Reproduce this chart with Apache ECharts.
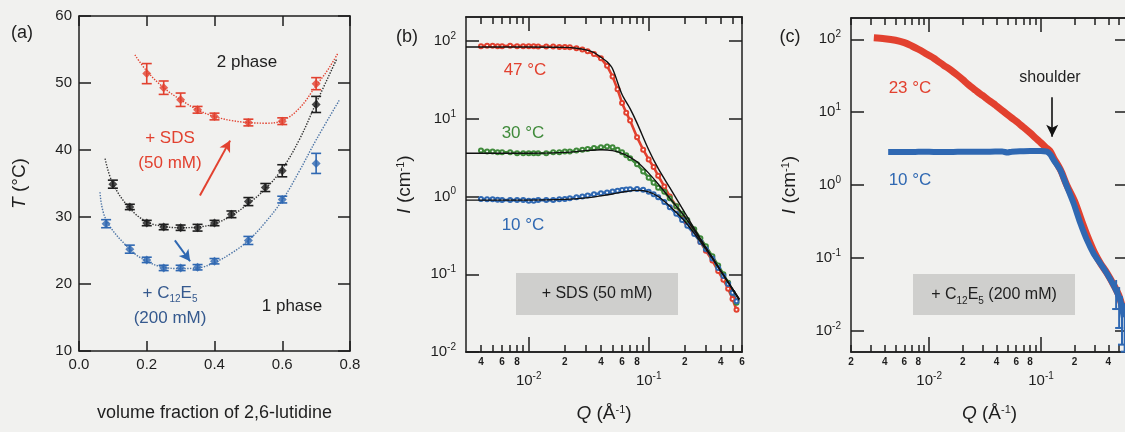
<!DOCTYPE html>
<html>
<head>
<meta charset="utf-8">
<script src="https://cdn.jsdelivr.net/npm/echarts@6/dist/echarts.min.js"></script>
<style>
html, body { margin: 0; padding: 0; background: #f1f1ef; }
#chart { width: 1125px; height: 432px; }
</style>
</head>
<body>
<div id="chart"></div>
<script>
// ---- (a) phase diagram: volume fraction vs T ----
var phiSDS = [0.2, 0.25, 0.3, 0.35, 0.4, 0.5, 0.6, 0.7];
var tSDS = [51.4, 49.3, 47.5, 46.0, 45.0, 44.1, 44.3, 49.9];
var errSDS = [1.5, 1.0, 1.0, 0.5, 0.5, 0.5, 0.5, 0.9];
var phiPure = [0.1, 0.15, 0.2, 0.25, 0.3, 0.35, 0.4, 0.45, 0.5, 0.55, 0.6, 0.7];
var tPure = [34.9, 31.5, 29.1, 28.5, 28.4, 28.4, 29.1, 30.4, 32.3, 34.4, 36.9, 46.8];
var errPure = [0.6, 0.4, 0.4, 0.4, 0.4, 0.5, 0.4, 0.5, 0.6, 0.6, 0.9, 1.2];
var phiC12 = [0.08, 0.15, 0.2, 0.25, 0.3, 0.35, 0.4, 0.5, 0.6, 0.7];
var tC12 = [29.0, 25.2, 23.6, 22.4, 22.4, 22.5, 23.4, 26.5, 32.6, 38.0];
var errC12 = [0.6, 0.6, 0.4, 0.4, 0.4, 0.4, 0.4, 0.6, 0.5, 1.5];
// dotted guide curves
var fitPhiSDS = [0.165, 0.2, 0.25, 0.3, 0.35, 0.4, 0.45, 0.5, 0.55, 0.6, 0.65, 0.7, 0.735, 0.765];
var fitTSDS = [54.2, 51.8, 49.3, 47.5, 46.0, 45.0, 44.4, 44.1, 44.0, 44.4, 46.2, 49.6, 52.0, 54.5];
var fitPhiPure = [0.077, 0.1, 0.15, 0.2, 0.25, 0.3, 0.35, 0.4, 0.45, 0.5, 0.55, 0.6, 0.65, 0.7, 0.76];
var fitTPure = [38.7, 35.0, 31.3, 29.3, 28.6, 28.4, 28.5, 29.0, 30.2, 32.0, 34.2, 37.2, 41.5, 47.0, 53.5];
var fitPhiC12 = [0.062, 0.08, 0.15, 0.2, 0.25, 0.3, 0.35, 0.4, 0.45, 0.5, 0.55, 0.6, 0.65, 0.7, 0.768];
var fitTC12 = [33.7, 29.6, 25.2, 23.4, 22.5, 22.3, 22.4, 23.2, 24.6, 26.5, 29.2, 32.5, 36.8, 41.5, 47.4];
var arrowSDS = [[0.357, 33.2], [0.446, 41.4]];
var arrowC12 = [[0.283, 26.5], [0.328, 23.4]];

// ---- (b) SANS + SDS (50 mM) ----
var qB = [0.004, 0.0045, 0.005, 0.0055, 0.006, 0.007, 0.008, 0.009, 0.01, 0.011, 0.012, 0.014, 0.016, 0.018, 0.02, 0.022,
  0.025, 0.028, 0.031, 0.035, 0.04, 0.045, 0.05, 0.055, 0.06, 0.065, 0.07, 0.08, 0.09, 0.1, 0.11, 0.12, 0.135, 0.15,
  0.17, 0.19, 0.21, 0.24, 0.27, 0.3, 0.34, 0.38, 0.42, 0.46, 0.5, 0.54];
var iB47 = [86, 87, 87, 86, 86, 87, 86, 86, 86, 86, 85, 85, 85, 84, 84, 83,
  81, 78, 74, 68, 60, 48, 35, 24, 16, 12, 9.5, 5.8, 4.0, 3.0, 2.4, 1.85, 1.35, 1.0,
  0.75, 0.58, 0.46, 0.34, 0.26, 0.2, 0.15, 0.11, 0.085, 0.065, 0.048, 0.035];
var iB30 = [3.9, 3.8, 3.8, 3.7, 3.7, 3.7, 3.6, 3.6, 3.6, 3.6, 3.6, 3.6, 3.7, 3.7, 3.8, 3.8,
  3.9, 4.0, 4.1, 4.2, 4.3, 4.4, 4.3, 4.0, 3.7, 3.4, 3.1, 2.6, 2.1, 1.75, 1.5, 1.3, 1.15, 0.95,
  0.75, 0.6, 0.5, 0.38, 0.29, 0.23, 0.17, 0.13, 0.1, 0.078, 0.058, 0.043];
var iB10 = [0.93, 0.92, 0.92, 0.91, 0.9, 0.9, 0.9, 0.9, 0.88, 0.88, 0.9, 0.9, 0.9, 0.92, 0.93, 0.95,
  0.98, 1.0, 1.03, 1.07, 1.1, 1.13, 1.16, 1.19, 1.21, 1.23, 1.24, 1.25, 1.22, 1.15, 1.07, 0.98, 0.85, 0.73,
  0.6, 0.5, 0.42, 0.33, 0.26, 0.21, 0.16, 0.12, 0.095, 0.075, 0.058, 0.045];
var qFitB47 = [0.003, 0.01, 0.02, 0.025, 0.03, 0.035, 0.04, 0.045, 0.05, 0.06, 0.07, 0.08, 0.1, 0.12, 0.15, 0.2, 0.3, 0.4, 0.57];
var iFitB47 = [84, 84, 83, 81, 77, 71, 62, 54, 44, 20.5, 13.5, 8.8, 4.0, 2.3, 1.3, 0.62, 0.22, 0.11, 0.048];
var qFitB30 = [0.003, 0.01, 0.02, 0.03, 0.04, 0.05, 0.06, 0.07, 0.08, 0.1, 0.12, 0.15, 0.2, 0.3, 0.4, 0.57];
var iFitB30 = [3.6, 3.6, 3.7, 3.9, 4.0, 3.9, 3.6, 3.2, 2.8, 2.0, 1.45, 0.95, 0.55, 0.22, 0.11, 0.046];
var qFitB10 = [0.003, 0.01, 0.02, 0.03, 0.04, 0.05, 0.06, 0.08, 0.1, 0.12, 0.15, 0.2, 0.3, 0.4, 0.57];
var iFitB10 = [0.9, 0.9, 0.92, 0.96, 1.02, 1.08, 1.14, 1.2, 1.15, 1.0, 0.75, 0.48, 0.21, 0.11, 0.048];

// ---- (c) SANS + C12E5 (200 mM) ----
var qC23 = [0.0032, 0.004, 0.005, 0.006, 0.007, 0.008, 0.009, 0.01, 0.011, 0.012, 0.0135, 0.015, 0.0165, 0.018, 0.02,
  0.022, 0.024, 0.026, 0.028, 0.03, 0.033, 0.035, 0.038, 0.04, 0.045, 0.05, 0.055, 0.06, 0.065, 0.07, 0.08, 0.09,
  0.1, 0.11, 0.12, 0.13, 0.15, 0.17, 0.2, 0.23, 0.26, 0.3, 0.34, 0.39, 0.45, 0.5, 0.55];
var iC23 = [105, 102, 97, 90, 81, 73, 66, 60, 55, 50, 44, 39.5, 35.5, 32, 28,
  24.5, 22, 20, 18.3, 17, 15.2, 14.2, 13, 12.2, 10.6, 9.3, 8.3, 7.5, 6.8, 6.2, 5.2, 4.4,
  3.8, 3.3, 2.95, 2.35, 1.6, 1.0, 0.6, 0.33, 0.2, 0.12, 0.085, 0.062, 0.042, 0.03, 0.018];
var qC10 = [0.0043, 0.005, 0.006, 0.007, 0.008, 0.01, 0.012, 0.015, 0.018, 0.022, 0.026, 0.03, 0.035, 0.04, 0.045,
  0.05, 0.055, 0.06, 0.07, 0.08, 0.09, 0.1, 0.113, 0.122, 0.13, 0.149, 0.171, 0.196, 0.225, 0.258, 0.296, 0.34,
  0.39, 0.447, 0.513, 0.55];
var iC10 = [2.85, 2.85, 2.85, 2.85, 2.86, 2.86, 2.85, 2.85, 2.86, 2.86, 2.87, 2.88, 2.88, 2.89, 2.9,
  2.8, 2.88, 2.9, 2.92, 2.93, 2.93, 2.93, 2.88, 2.6, 2.2, 1.61, 0.95, 0.56, 0.30, 0.176, 0.115, 0.084,
  0.061, 0.042, 0.026, 0.0155];
// error bars at the high-Q end of the 10 °C curve (Q, low, high)
var qErrC10 = [0.47, 0.5, 0.53, 0.56];
var loErrC10 = [0.02, 0.011, 0.0065, 0.0052];
var hiErrC10 = [0.05, 0.04, 0.03, 0.024];
var arrowShoulder = [[0.126, 16], [0.126, 4.6]];

// tick positions (Q in 1/A, I in 1/cm)
var minorB = [0.004, 0.005, 0.006, 0.007, 0.008, 0.009, 0.02, 0.03, 0.04, 0.05, 0.06, 0.07, 0.08, 0.09, 0.2, 0.3, 0.4, 0.5, 0.6];
var minorC = [0.002, 0.003, 0.004, 0.005, 0.006, 0.007, 0.008, 0.009, 0.02, 0.03, 0.04, 0.05, 0.06, 0.07, 0.08, 0.09, 0.2, 0.3, 0.4, 0.5, 0.6];
var majorQ = [0.01, 0.1];
var decadesI = [0.01, 0.1, 1, 10, 100];

var FONT = 'Liberation Sans, Arial, sans-serif';
var INK = '#1e1e1e';
var RED = '#e2412f', GREEN = '#3f8a3a', BLUE = '#2f68b2';

function lg(v) { return Math.log10(v); }
function toLog(q, v) {
  return q.map(function(x, i) { return [lg(x), lg(v[i])]; });
}
function pairs(x, y) {
  return x.map(function(v, i) { return [v, y[i]]; });
}
function minorLabel(v) {
  var e = Math.floor(v + 1e-9);
  var m = Math.round(Math.pow(10, v - e));
  return (m % 2 === 0) ? String(m) : '';
}
function powLabel(v) {
  return '{b|10}{s|' + Math.round(v) + '}';
}
var powRich = {
  b: { fontSize: 15, lineHeight: 20, fontFamily: FONT, color: INK },
  s: { fontSize: 10, lineHeight: 10, verticalAlign: 'top', fontFamily: FONT, color: INK }
};
var lineSt = { color: INK, width: 1.5 };

// log axes of panels (b)/(c)
function qAxes(grid, xmin, xmax, minor) {
  var base = { gridIndex: grid, type: 'value', min: lg(xmin), max: lg(xmax), splitLine: { show: false } };
  var lm = minor.map(lg), lM = majorQ.map(lg);
  return [
    Object.assign({}, base, {
      position: 'bottom',
      axisLine: { onZero: false, lineStyle: lineSt },
      axisTick: { show: true, inside: true, length: 7, customValues: lm, lineStyle: lineSt },
      axisLabel: { customValues: lm, formatter: minorLabel, fontSize: 10, fontWeight: 'bold', margin: 5, color: INK, fontFamily: FONT }
    }),
    Object.assign({}, base, {
      position: 'bottom',
      axisLine: { onZero: false, lineStyle: lineSt },
      axisTick: { show: true, inside: true, length: 15, customValues: lM, lineStyle: lineSt },
      axisLabel: { customValues: lM, formatter: powLabel, rich: powRich, margin: 19 },
      name: '{i|Q} (Å{s|-1})', nameLocation: 'middle', nameGap: 52,
      nameTextStyle: { fontSize: 19, fontFamily: FONT, color: INK,
        rich: { i: { fontStyle: 'italic', fontSize: 19, fontFamily: FONT, color: INK },
                s: { fontSize: 11, verticalAlign: 'top', lineHeight: 11, fontFamily: FONT, color: INK } } }
    }),
    Object.assign({}, base, {
      position: 'top',
      axisLine: { onZero: false, lineStyle: lineSt },
      axisTick: { show: true, inside: true, length: 7, customValues: lm, lineStyle: lineSt },
      axisLabel: { show: false }
    }),
    Object.assign({}, base, {
      position: 'top',
      axisLine: { onZero: false, lineStyle: lineSt },
      axisTick: { show: true, inside: true, length: 14, customValues: lM, lineStyle: lineSt },
      axisLabel: { show: false }
    })
  ];
}
function iAxes(grid, ymin, ymax, gap) {
  var base = { gridIndex: grid, type: 'value', min: lg(ymin), max: lg(ymax), splitLine: { show: false } };
  var ld = decadesI.map(lg);
  return [
    Object.assign({}, base, {
      position: 'left',
      axisLine: { onZero: false, lineStyle: lineSt },
      axisTick: { show: true, inside: true, length: 13, customValues: ld, lineStyle: lineSt },
      axisLabel: { customValues: ld, formatter: powLabel, rich: powRich, margin: 10 },
      name: '{i|I} (cm{s|-1})', nameLocation: 'middle', nameGap: gap, nameRotate: 90,
      nameTextStyle: { fontSize: 19, fontFamily: FONT, color: INK,
        rich: { i: { fontStyle: 'italic', fontSize: 19, fontFamily: FONT, color: INK },
                s: { fontSize: 11, verticalAlign: 'top', lineHeight: 11, fontFamily: FONT, color: INK } } }
    }),
    Object.assign({}, base, {
      position: 'right',
      axisLine: { onZero: false, lineStyle: lineSt },
      axisTick: { show: true, inside: true, length: 13, customValues: ld, lineStyle: lineSt },
      axisLabel: { show: false }
    })
  ];
}

function errorBars(phi, t, err, color) {
  return {
    type: 'custom', xAxisIndex: 0, yAxisIndex: 0, z: 3,
    data: phi.map(function(p, i) { return [p, t[i], err[i]]; }),
    renderItem: function(params, api) {
      var hi = api.coord([api.value(0), api.value(1) + api.value(2)]);
      var lo = api.coord([api.value(0), api.value(1) - api.value(2)]);
      var w = 5;
      var st = { stroke: color, lineWidth: 1.6 };
      return { type: 'group', children: [
        { type: 'line', shape: { x1: hi[0], y1: hi[1], x2: lo[0], y2: lo[1] }, style: st },
        { type: 'line', shape: { x1: hi[0] - w, y1: hi[1], x2: hi[0] + w, y2: hi[1] }, style: st },
        { type: 'line', shape: { x1: lo[0] - w, y1: lo[1], x2: lo[0] + w, y2: lo[1] }, style: st }
      ] };
    }
  };
}
function guide(x, y, color) {
  return { type: 'line', xAxisIndex: 0, yAxisIndex: 0, data: pairs(x, y), smooth: 0.4, showSymbol: false,
    lineStyle: { color: color, width: 1.4, type: 'dotted' }, z: 2 };
}
function points(x, y, color, arrow) {
  var s = { type: 'scatter', xAxisIndex: 0, yAxisIndex: 0, data: pairs(x, y), symbol: 'diamond', symbolSize: 9,
    itemStyle: { color: color }, z: 4 };
  if (arrow) {
    s.markLine = { silent: true, symbol: ['none', 'arrow'], symbolSize: [9, 11], animation: false,
      label: { show: false }, lineStyle: { color: color, width: 2, type: 'solid' },
      data: [[{ coord: arrow[0] }, { coord: arrow[1] }]] };
  }
  return s;
}
function sansData(q, v, color, xi, yi) {
  return { type: 'line', xAxisIndex: xi, yAxisIndex: yi, data: toLog(q, v), symbol: 'emptyCircle', symbolSize: 4,
    showSymbol: true, itemStyle: { color: color }, lineStyle: { color: color, width: 2.6 }, z: 2 };
}
function sansFit(q, v, xi, yi) {
  return { type: 'line', xAxisIndex: xi, yAxisIndex: yi, data: toLog(q, v), smooth: 0.3, showSymbol: false,
    lineStyle: { color: '#111', width: 1.4 }, z: 3 };
}
function txt(x, y, text, color, size, rich) {
  var st = { text: text, fill: color || INK, fontSize: size || 17, fontFamily: FONT, align: 'center', verticalAlign: 'middle' };
  if (rich) st.rich = rich;
  return { type: 'text', x: x, y: y, z: 10, style: st };
}
var subRich = function(color) {
  return { sb: { fontSize: 10, verticalAlign: 'bottom', lineHeight: 22, fill: color, fontFamily: FONT } };
};

var chart = echarts.init(document.getElementById('chart'));
var option = {
  backgroundColor: '#f1f1ef',
  animation: false,
  grid: [
    { left: 79, top: 16, width: 271, height: 335, outerBoundsMode: 'none' },
    { left: 466, top: 17, width: 276, height: 335, outerBoundsMode: 'none' },
    { left: 851, top: 18, width: 277, height: 334, outerBoundsMode: 'none' }
  ],
  xAxis: [
    { gridIndex: 0, type: 'value', min: 0, max: 0.8, interval: 0.2, position: 'bottom', splitLine: { show: false },
      axisLine: { onZero: false, lineStyle: lineSt },
      axisTick: { inside: true, length: 10, lineStyle: lineSt },
      axisLabel: { formatter: function(v) { return v.toFixed(1); }, fontSize: 15, margin: 6, color: INK, fontFamily: FONT,
        showMinLabel: true, showMaxLabel: true },
      name: 'volume fraction of 2,6-lutidine', nameLocation: 'middle', nameGap: 53,
      nameTextStyle: { fontSize: 18, fontFamily: FONT, color: INK } },
    { gridIndex: 0, type: 'value', min: 0, max: 0.8, interval: 0.2, position: 'top', splitLine: { show: false },
      axisLine: { onZero: false, lineStyle: lineSt },
      axisTick: { inside: true, length: 10, lineStyle: lineSt },
      axisLabel: { show: false } }
  ].concat(qAxes(1, 0.003, 0.6, minorB), qAxes(2, 0.002, 0.6, minorC)),
  yAxis: [
    { gridIndex: 0, type: 'value', min: 10, max: 60, interval: 10, position: 'left', splitLine: { show: false },
      axisLine: { onZero: false, lineStyle: lineSt },
      axisTick: { inside: true, length: 12, lineStyle: lineSt },
      axisLabel: { fontSize: 15, margin: 7, color: INK, fontFamily: FONT, showMinLabel: true, showMaxLabel: true },
      name: '{i|T} (°C)', nameLocation: 'middle', nameGap: 50, nameRotate: 90,
      nameTextStyle: { fontSize: 19, fontFamily: FONT, color: INK,
        rich: { i: { fontStyle: 'italic', fontSize: 19, fontFamily: FONT, color: INK } } } },
    { gridIndex: 0, type: 'value', min: 10, max: 60, interval: 10, position: 'right', splitLine: { show: false },
      axisLine: { onZero: false, lineStyle: lineSt },
      axisTick: { inside: true, length: 12, lineStyle: lineSt },
      axisLabel: { show: false } }
  ].concat(iAxes(1, 0.01, 204, 52), iAxes(2, 0.00515, 196, 52)),
  series: [
    guide(fitPhiSDS, fitTSDS, RED),
    guide(fitPhiPure, fitTPure, '#333'),
    guide(fitPhiC12, fitTC12, '#4c74a6'),
    errorBars(phiSDS, tSDS, errSDS, RED),
    errorBars(phiPure, tPure, errPure, INK),
    errorBars(phiC12, tC12, errC12, BLUE),
    points(phiSDS, tSDS, RED, arrowSDS),
    points(phiPure, tPure, INK),
    points(phiC12, tC12, BLUE, arrowC12),

    sansData(qB, iB47, RED, 2, 2),
    sansData(qB, iB30, GREEN, 2, 2),
    sansData(qB, iB10, BLUE, 2, 2),
    sansFit(qFitB47, iFitB47, 2, 2),
    sansFit(qFitB30, iFitB30, 2, 2),
    sansFit(qFitB10, iFitB10, 2, 2),

    { type: 'line', xAxisIndex: 6, yAxisIndex: 4, data: toLog(qC23, iC23), showSymbol: false, smooth: 0.3,
      lineStyle: { color: RED, width: 7 }, z: 2 },
    { type: 'line', xAxisIndex: 6, yAxisIndex: 4, data: toLog(qC10, iC10), showSymbol: false, smooth: 0.2,
      lineStyle: { color: BLUE, width: 6 }, z: 3,
      markLine: { silent: true, symbol: ['none', 'arrow'], symbolSize: [9, 12], animation: false,
        label: { show: false }, lineStyle: { color: '#111', width: 1.6, type: 'solid' },
        data: [[{ coord: [lg(arrowShoulder[0][0]), lg(arrowShoulder[0][1])] },
                { coord: [lg(arrowShoulder[1][0]), lg(arrowShoulder[1][1])] }]] } },
    { type: 'custom', xAxisIndex: 6, yAxisIndex: 4, z: 3,
      data: qErrC10.map(function(q, i) { return [lg(q), lg(loErrC10[i]), lg(hiErrC10[i])]; }),
      renderItem: function(params, api) {
        var hi = api.coord([api.value(0), api.value(2)]);
        var lo = api.coord([api.value(0), api.value(1)]);
        var st = { stroke: BLUE, lineWidth: 2 };
        return { type: 'group', children: [
          { type: 'line', shape: { x1: hi[0], y1: hi[1], x2: lo[0], y2: lo[1] }, style: st },
          { type: 'line', shape: { x1: lo[0] - 4, y1: lo[1], x2: lo[0] + 4, y2: lo[1] }, style: st }
        ] };
      } }
  ],
  graphic: [
    { type: 'rect', shape: { x: 516, y: 273, width: 162, height: 42 }, style: { fill: '#cfcfcd' }, z: 1 },
    { type: 'rect', shape: { x: 913, y: 274, width: 162, height: 41 }, style: { fill: '#cfcfcd' }, z: 1 },
    txt(22, 33, '(a)', INK, 18),
    txt(247, 62, '2 phase', INK, 17),
    txt(292, 306, '1 phase', INK, 17),
    txt(170, 138, '+ SDS', RED, 17),
    txt(170, 163, '(50 mM)', RED, 17),
    txt(170, 293, '+ C{sb|12}E{sb|5}', '#35598e', 17, subRich('#35598e')),
    txt(170, 318, '(200 mM)', '#35598e', 17),
    txt(407, 37, '(b)', INK, 18),
    txt(525, 70, '47 °C', RED, 17),
    txt(523, 133, '30 °C', GREEN, 17),
    txt(523, 225, '10 °C', BLUE, 17),
    txt(597, 294, '+ SDS (50 mM)', INK, 16),
    txt(790, 37, '(c)', INK, 18),
    txt(910, 88, '23 °C', RED, 17),
    txt(910, 180, '10 °C', BLUE, 17),
    txt(1050, 78, 'shoulder', INK, 16),
    txt(994, 295, '+ C{sb|12}E{sb|5} (200 mM)', INK, 16, subRich(INK))
  ]
};
chart.setOption(option);
</script>
</body>
</html>
